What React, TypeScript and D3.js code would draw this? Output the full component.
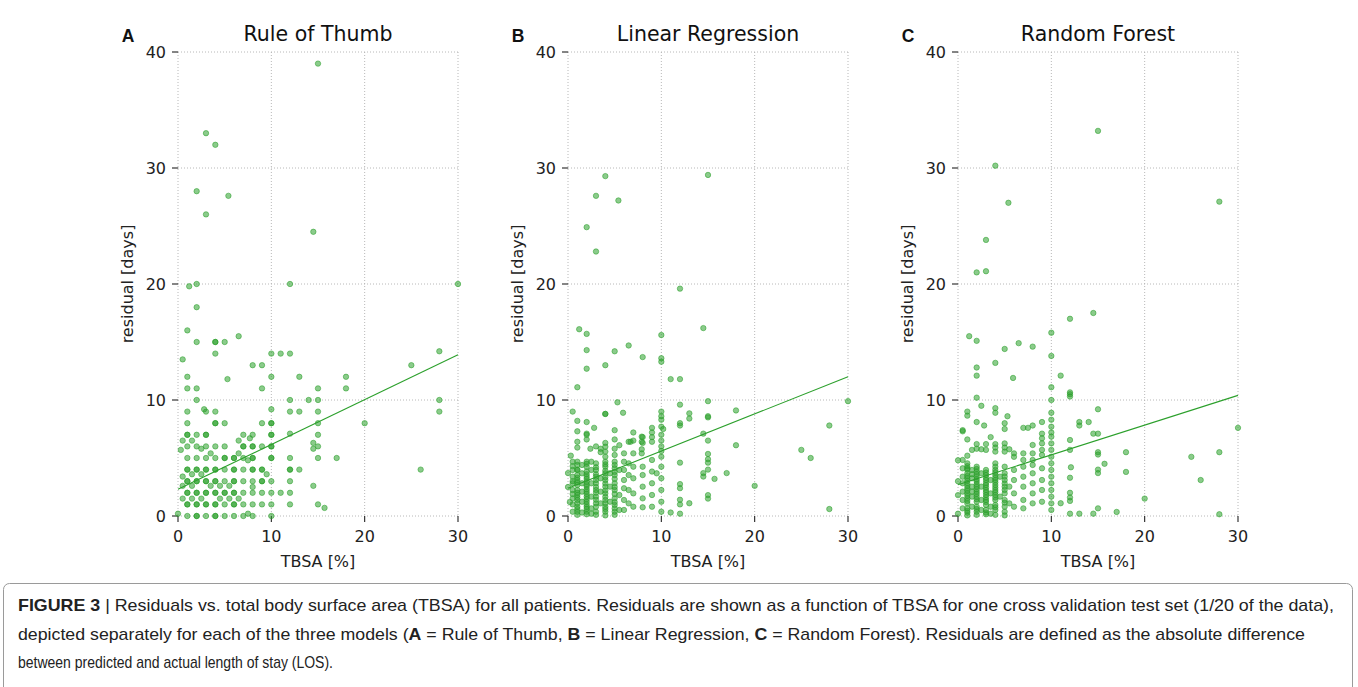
import React from "react";
import * as d3 from "d3";

// residual vs TBSA, one CV test set
const xTicks = [0, 10, 20, 30];
const yTicks = [0, 10, 20, 30, 40];
const panelLetters = ["A", "B", "C"];
const panelTitles = ["Rule of Thumb", "Linear Regression", "Random Forest"];

const thumbPoints: [number, number][] = [
  [15, 39], [3, 33], [4, 32], [2, 28], [5.4, 27.6], [3, 26], [14.5, 24.5],
  [1.2, 19.8], [2, 20], [12, 20], [30, 20], [2, 18], [1, 16], [6.5, 15.5], [2, 15], [4, 15], [4, 15], [5, 15],
  [0.5, 13.5], [4, 14], [8, 13], [9, 13], [10, 14], [11, 14], [12, 14], [25, 13], [28, 14.2],
  [1, 12], [5.3, 11.8], [10, 12], [13, 12], [18, 12],
  [1, 11], [2, 11], [9, 11], [15, 11], [18, 11],
  [2, 10], [12, 10], [14, 10], [15, 10], [28, 10],
  [1, 9], [2.8, 9.2], [3, 9], [4, 9], [10, 9.2], [12, 9], [13, 9], [15, 9], [28, 9],
  [1, 8], [4, 8], [4, 8], [5, 8], [9, 8], [10, 8], [10, 8], [15, 8], [20, 8],
  [1, 7], [1, 7], [2, 7], [3, 7], [3, 7], [7, 7], [8, 7], [10, 7], [10, 7], [12, 7.1], [15, 7],
  [0.5, 6.5], [1.5, 6.5], [6.5, 6.5], [7.7, 6.7], [14.5, 6.3],
  [1, 6], [2, 6], [3, 6], [4, 6], [5, 6], [7, 6], [7, 6], [8, 6], [8, 6], [9, 6], [10, 6], [10, 6], [15, 6],
  [0.3, 5.7], [2.5, 5.8], [14.5, 5.8], [6.5, 5.4], [3.5, 5.4],
  [1, 5], [2, 5], [3, 5], [4, 5], [5, 5], [5, 5], [6, 5], [6, 5], [7, 5], [8, 5], [8, 5], [10, 5], [10, 5],
  [12, 5], [15, 5], [17, 5], [7.5, 4.8],
  [1, 4], [1, 4], [2, 4], [2, 4], [3, 4], [3, 4], [4, 4], [4, 4], [5, 4], [6, 4], [6, 4], [7, 4], [8, 4], [8, 4],
  [9, 4], [9, 4], [12, 4], [12, 4], [13, 4], [26, 4],
  [1.5, 3.6], [2.5, 3.6], [9.5, 3.6], [0.5, 3.4],
  [1, 3], [1, 3], [2, 3], [2, 3], [3, 3], [3, 3], [4, 3], [4, 3], [5, 3], [6, 3], [6, 3], [7, 3], [8, 3],
  [9, 3], [9, 3], [10, 3], [12, 3],
  [0.5, 2.6], [1.5, 2.6], [3.5, 2.6], [4.5, 2.6], [5.5, 2.6], [8, 2.5], [14.5, 2.6],
  [1, 2], [1, 2], [2, 2], [2, 2], [3, 2], [3, 2], [4, 2], [4, 2], [5, 2], [5, 2], [6, 2], [6, 2], [7, 2],
  [8, 2], [9, 2], [10, 2], [11, 2], [12, 2],
  [0.5, 1.5], [1.5, 1.5], [2.5, 1.5], [4.5, 1.5], [5.5, 1.5], [6.5, 1.5],
  [1, 1], [1, 1], [2, 1], [2, 1], [3, 1], [3, 1], [4, 1], [4, 1], [5, 1], [6, 1], [6, 1], [7, 1], [8, 1],
  [9, 1], [10, 1], [12, 1], [15, 1], [15.7, 0.7],
  [0, 0.2], [1, 0], [2, 0], [2, 0], [3, 0], [4, 0], [4, 0], [5, 0], [6, 0], [7, 0], [7.5, 0.2], [8, 0], [10, 0],
];

const linearPoints: [number, number][] = [
  [15, 29.4], [4, 29.3], [3, 27.6], [5.4, 27.2], [2, 24.9], [3, 22.8], [12, 19.6],
  [1.2, 16.1], [14.5, 16.2], [2, 15.7], [10, 15.6], [6.5, 14.7], [2, 14.3], [5, 14.2], [8, 13.7], [10, 13.6],
  [4, 13.0], [2, 12.7], [11, 11.8], [12, 11.8], [1, 11.1], [10, 13.3],
  [5.3, 9.8], [30, 9.9], [0.5, 9.0], [4, 8.8], [4, 8.8], [5.9, 8.9], [10, 9.0], [10, 8.6], [10, 8.3], [10, 7.7],
  [12, 9.6], [12, 8.0], [12, 7.8], [13, 8.85], [13, 8.4], [15, 9.9], [15, 8.6], [15, 8.5], [18, 9.1],
  [1, 8.2], [2, 8.1], [1, 7.3], [2.8, 7.6], [2, 7.1], [2, 6.6], [5, 7.4], [7, 7.2], [7, 6.5], [6.5, 6.4],
  [8, 6.8], [8, 6.3], [9, 7.6], [9, 7.2], [9, 6.8], [10.2, 7.5], [10, 7.0], [10, 6.5], [14.5, 7.1], [15, 6.5],
  [18, 6.1], [25, 5.7], [26, 5.0], [28, 7.8], [28, 0.6], [20, 2.6], [15.7, 3.2], [17, 3.7],
  [15, 5.35], [15, 4.9], [15, 4.6], [15, 4.0], [14.5, 3.7], [14.5, 3.4], [15, 1.8], [15, 1.5],
  [12, 4.6], [12, 2.75], [12, 2.4], [12, 1.4], [12, 1.0], [12, 0.2], [13, 1.1], [11, 0.3],
  [2, 7.0], [4, 6.3], [4, 5.97], [4, 5.55], [3, 6.0], [2.4, 5.8], [7.9, 6.84], [7.9, 6.4], [7.9, 5.75],
  [7.9, 5.4], [6.7, 6.4], [9, 6.4], [10, 6.0], [10, 5.6], [1, 5.9], [1, 6.4], [0.3, 5.2], [3.5, 5.5],
  [3.5, 5.8], [5, 6.6], [5, 5.8], [5.5, 6.1], [0, 3.7], [0, 2.5], [0.2, 1.2],
  [0.5, 4.68], [0.5, 3.97], [0.5, 3.39], [0.5, 2.82], [0.5, 2.24], [0.5, 1.52], [0.5, 0.37],
  [1, 4.68], [1, 4.4], [1, 3.97], [1, 3.53], [1, 3.1], [1, 2.67], [1, 2.24], [1, 1.81], [1, 1.38], [1, 0.8], [1, 0.37],
  [1.5, 4.4], [1.5, 3.68], [1.5, 2.82], [1.5, 2.1], [1.5, 1.23],
  [2, 4.68], [2, 4.25], [2, 3.83], [2, 3.39], [2, 2.96], [2, 2.53], [2, 2.1], [2, 1.67], [2, 1.23], [2, 0.8], [2, 0.37],
  [2.5, 4.68], [2.5, 3.97], [2.5, 2.82], [2.5, 1.67], [2.5, 0.66],
  [3, 4.54], [3, 3.97], [3, 3.39], [3, 2.82], [3, 2.24], [3, 1.67], [3, 1.09], [3, 0.37],
  [3.5, 3.25], [3.5, 2.1], [3.5, 1.09],
  [4, 5.11], [4, 4.68], [4, 4.25], [4, 3.68], [4, 3.1], [4, 2.53], [4, 1.95], [4, 1.38], [4, 0.8], [4, 0.37],
  [4.5, 3.68], [4.5, 2.53], [4.5, 1.23],
  [5, 5.26], [5, 4.68], [5, 4.11], [5, 3.53], [5, 2.82], [5, 2.24], [5, 1.52], [5, 0.95], [5, 0.37],
  [5.5, 3.97], [5.5, 1.81], [5.5, 0.52],
  [6, 5.4], [6, 4.68], [6, 3.97], [6, 3.1], [6, 2.39], [6, 1.38], [6, 0.52],
  [6.5, 4.54], [6.5, 3.53], [6.5, 2.24], [6.5, 1.09],
  [7, 5.4], [7, 4.25], [7, 3.25], [7, 1.95], [7, 0.8],
  [8, 4.25], [8, 3.53], [8, 2.53], [8, 1.52], [8, 0.75],
  [9, 4.83], [9, 3.83], [9, 2.82], [9, 1.81], [9, 0.8], [9.5, 3.68],
  [10, 5.11], [10, 4.25], [10, 3.25], [10, 2.24], [10, 1.23], [10, 0.37],
  [1, 0.1], [2, 0.15], [3, 0.1], [4, 0.05], [5, 0.1], [2.5, 0.2], [1.5, 0.3],
  [1, 4.0], [1, 3.3], [1, 2.9], [1, 2.0], [1, 1.6], [1, 1.1], [1, 0.6],
  [2, 4.5], [2, 3.6], [2, 3.2], [2, 2.7], [2, 2.3], [2, 1.9], [2, 1.45], [2, 1.0], [2, 0.6],
  [3, 4.2], [3, 3.6], [3, 3.1], [3, 2.5], [3, 2.0], [3, 1.4], [3, 0.8],
  [4, 4.45], [4, 3.9], [4, 3.35], [4, 2.8], [4, 2.2], [4, 1.65], [4, 1.1], [4, 0.6],
  [5, 4.4], [5, 3.8], [5, 3.2], [5, 2.5], [5, 1.9], [5, 1.2], [5, 0.65],
  [0.5, 4.3], [0.5, 3.0], [0.5, 1.9], [0.5, 1.0],
];

const forestPoints: [number, number][] = [
  [15, 33.2], [4, 30.2], [28, 27.1], [5.4, 27.0], [3, 23.8], [2, 21.0], [3, 21.1],
  [14.5, 17.5], [12, 17.0], [1.2, 15.5], [2, 15.1], [10, 15.8], [6.5, 14.9], [5, 14.4], [8, 14.6], [10, 13.8],
  [4, 13.2], [2, 12.8], [2, 12.1], [5.9, 11.9], [11, 12.1],
  [10, 11.1], [10, 10.0], [2, 10.2], [2.5, 9.5], [1, 9.0], [1, 8.65], [4, 9.3], [4, 8.9], [5.3, 8.6],
  [2, 8.1], [0.5, 7.3], [2.8, 7.8], [5, 8.0], [5, 7.5], [7, 7.6], [7.5, 7.6], [8, 7.8], [9, 8.1],
  [10, 8.9], [10, 8.3], [10, 7.7], [10, 7.2],
  [12, 10.66], [12, 10.5], [12, 10.3], [13, 8.1], [13, 7.8], [14, 8.1], [14.5, 7.1], [15, 7.1], [15, 9.2],
  [15, 5.5], [15, 5.3], [15.7, 4.5], [18, 5.5], [18, 3.8], [15, 4.0], [15, 3.7],
  [12, 6.55], [12, 5.7], [12.1, 4.2], [12, 3.3], [12, 2.0], [12, 1.6], [12, 1.3], [12, 0.2], [13, 0.2],
  [11, 1.1], [14.5, 0.2], [15, 0.66], [17, 0.35], [20, 1.5], [25, 5.1], [28, 5.5], [26, 3.1], [28, 0.15], [30, 7.6],
  [2, 6.2], [2, 5.8], [1.5, 5.7], [2.5, 5.75], [3, 6.2], [3, 5.7], [4, 6.2], [4, 5.9], [4, 5.55],
  [5, 6.26], [5, 5.9], [5, 5.55], [5.5, 5.75], [6, 5.4], [6, 5.1], [7, 5.4], [7, 4.83],
  [8, 6.12], [8, 5.4], [8, 4.83], [8, 4.4], [9, 7.1], [9, 6.7], [9, 6.26], [9, 5.7], [9, 5.26],
  [10, 6.84], [10, 6.26], [10, 5.7], [10, 5.11], [10, 4.54], [10, 3.97], [10, 3.39], [10, 2.82], [10, 2.24],
  [10, 1.67], [10, 1.09], [10, 0.52], [0.5, 7.4], [1, 6.6], [1, 5.2], [3.5, 6.8], [0, 4.8], [0, 3.0], [0, 1.8],
  [0.5, 4.83], [0.5, 4.11], [0.5, 3.39], [0.5, 2.82], [0.5, 2.1], [0.5, 1.38], [0.5, 0.66],
  [1, 4.54], [1, 4.11], [1, 3.68], [1, 3.25], [1, 2.82], [1, 2.39], [1, 1.95], [1, 1.52], [1, 1.09], [1, 0.66], [1, 0.29],
  [1, 4.3], [1, 3.45], [1, 2.6], [1, 1.75],
  [1.5, 3.97], [1.5, 3.25], [1.5, 2.53], [1.5, 1.67], [1.5, 0.8], [1.5, 3.6], [1.5, 2.1],
  [2, 4.25], [2, 3.83], [2, 3.39], [2, 2.96], [2, 2.53], [2, 2.1], [2, 1.67], [2, 1.23], [2, 0.8], [2, 0.37],
  [2, 3.6], [2, 2.75], [2, 1.9],
  [2.5, 3.68], [2.5, 2.53], [2.5, 1.38], [2.5, 0.52],
  [3, 3.97], [3, 3.53], [3, 3.1], [3, 2.67], [3, 2.24], [3, 1.81], [3, 1.38], [3, 0.95], [3, 0.52],
  [3, 3.3], [3, 2.45], [3, 1.6],
  [3.5, 3.1], [3.5, 1.95], [3.5, 0.8],
  [4, 4.54], [4, 3.97], [4, 3.53], [4, 3.1], [4, 2.67], [4, 2.24], [4, 1.81], [4, 1.38], [4, 0.95], [4, 0.52],
  [4, 3.75], [4, 2.9], [4, 2.05],
  [4.5, 3.39], [4.5, 1.67],
  [5, 4.25], [5, 3.68], [5, 3.1], [5, 2.53], [5, 1.95], [5, 1.38], [5, 0.8], [5, 0.37], [5, 2.8],
  [5.5, 2.53], [5.5, 1.09],
  [6, 3.97], [6, 3.1], [6, 1.95], [6, 0.8],
  [7, 3.39], [7, 2.53], [7, 1.38], [7, 0.66], [7, 4.25],
  [8, 3.68], [8, 2.82], [8, 1.95], [8, 1.09],
  [9, 4.11], [9, 3.1], [9, 2.24], [9, 1.23],
  [0, 0.2], [1, 0.05], [2, 0.1], [3, 0.15], [4, 0.1], [5, 0.05], [3.5, 0.2],
  [1, 4.0], [1, 3.05], [1, 2.2], [1, 1.3], [1, 0.45],
  [2, 4.05], [2, 3.15], [2, 2.3], [2, 1.45], [2, 0.6],
  [3, 3.75], [3, 2.85], [3, 2.05], [3, 1.2], [3, 0.3],
  [4, 4.25], [4, 3.3], [4, 2.45], [4, 1.6], [4, 0.75],
  [5, 3.4], [5, 2.25], [5, 1.15],
];

const thumbFit: [number, number][] = [[0, 2.3], [30, 13.9]];
const linearFit: [number, number][] = [[0, 2.4], [30, 12.0]];
const forestFit: [number, number][] = [[0, 2.7], [30, 10.4]];

const panelPoints = [thumbPoints, linearPoints, forestPoints];
const panelFits = [thumbFit, linearFit, forestFit];

const W = 1358;
const H = 687;
const panelLeft = [178, 568, 958];
const plotW = 280;
const top = 52;
const bottom = 516;
const green = "#2ca02c";
const tickFont = "'DejaVu Sans', Verdana, sans-serif";
const capFont = "'Liberation Sans Narrow', 'Liberation Sans', Arial, sans-serif";

function Panel({ idx }: { idx: number }) {
  const x0 = panelLeft[idx];
  const x = d3.scaleLinear().domain([0, 30]).range([x0, x0 + plotW]);
  const y = d3.scaleLinear().domain([0, 40]).range([bottom, top]);
  const line = d3
    .line<[number, number]>()
    .x((d) => x(d[0]))
    .y((d) => y(d[1]));

  return (
    <g>
      {/* grid */}
      {xTicks.map((t) => (
        <line key={"gx" + t} x1={x(t)} x2={x(t)} y1={top} y2={bottom}
          stroke="#b0b0b0" strokeWidth={0.9} strokeDasharray="1,2" />
      ))}
      {yTicks.map((t) => (
        <line key={"gy" + t} x1={x0} x2={x0 + plotW} y1={y(t)} y2={y(t)}
          stroke="#b0b0b0" strokeWidth={0.9} strokeDasharray="1,2" />
      ))}
      {/* ticks + labels */}
      {yTicks.map((t) => (
        <g key={"ty" + t}>
          <line x1={x0 - 6} x2={x0} y1={y(t)} y2={y(t)} stroke="#222" strokeWidth={1.1} />
          <text x={x0 - 12} y={y(t) + 6} textAnchor="end" fontSize={16} fontFamily={tickFont} fill="#222">
            {t}
          </text>
        </g>
      ))}
      {xTicks.map((t) => (
        <g key={"tx" + t}>
          <line x1={x(t)} x2={x(t)} y1={bottom} y2={bottom + 6} stroke="#222" strokeWidth={1.1} />
          <text x={x(t)} y={bottom + 26} textAnchor="middle" fontSize={16} fontFamily={tickFont} fill="#222">
            {t}
          </text>
        </g>
      ))}
      <text x={x0 + plotW / 2} y={567} textAnchor="middle" fontSize={16} fontFamily={tickFont} fill="#222">
        TBSA [%]
      </text>
      <text transform={`translate(${x0 - 45},${(top + bottom) / 2}) rotate(-90)`} textAnchor="middle"
        fontSize={16} fontFamily={tickFont} fill="#222">
        residual [days]
      </text>
      <text x={x0 + plotW / 2} y={41} textAnchor="middle" fontSize={20.5} fontFamily={tickFont} fill="#111">
        {panelTitles[idx]}
      </text>
      <text x={x0 - 50} y={42} textAnchor="middle" fontSize={17.5} fontWeight="bold"
        fontFamily="'Liberation Sans', Arial, sans-serif" fill="#111">
        {panelLetters[idx]}
      </text>
      {/* points */}
      {panelPoints[idx].map((d, i) => (
        <circle key={i} cx={x(d[0])} cy={y(d[1])} r={2.7} fill={green} fillOpacity={0.55}
          stroke={green} strokeOpacity={0.55} strokeWidth={1} />
      ))}
      <path d={line(panelFits[idx]) || ""} fill="none" stroke={green} strokeWidth={1.1} />
    </g>
  );
}

export default function App() {
  return (
    <div style={{ position: "absolute", left: 0, top: 0 }}>
      <svg width={W} height={H} style={{ display: "block", background: "#fff" }}>
        {[0, 1, 2].map((i) => (
          <Panel key={i} idx={i} />
        ))}
        <rect x={3.5} y={583.5} width={1349} height={130} rx={6} fill="none" stroke="#9a9a9a" strokeWidth={1} />
        <text x={18} y={611} fontSize={17} fontFamily={capFont} fill="#222" textLength={1316} lengthAdjust="spacingAndGlyphs">
          <tspan fontWeight="bold">FIGURE 3</tspan> | Residuals vs. total body surface area (TBSA) for all patients. Residuals are shown as a function of TBSA for one cross validation test set (1/20 of the data),
        </text>
        <text x={18} y={640} fontSize={17} fontFamily={capFont} fill="#222" textLength={1287} lengthAdjust="spacingAndGlyphs">
          depicted separately for each of the three models (<tspan fontWeight="bold">A</tspan> = Rule of Thumb, <tspan fontWeight="bold">B</tspan> = Linear Regression, <tspan fontWeight="bold">C</tspan> = Random Forest). Residuals are defined as the absolute difference
        </text>
        <text x={18} y={668} fontSize={17} fontFamily={capFont} fill="#222" textLength={315} lengthAdjust="spacingAndGlyphs">
          between predicted and actual length of stay (LOS).
        </text>
      </svg>
    </div>
  );
}
